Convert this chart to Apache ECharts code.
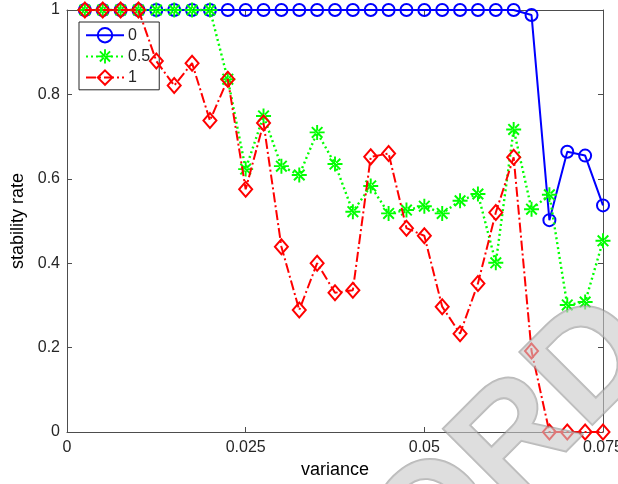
<!DOCTYPE html>
<html>
<head>
<meta charset="utf-8">
<script src="https://cdn.jsdelivr.net/npm/echarts@6/dist/echarts.min.js"></script>
<style>
  html, body { margin: 0; padding: 0; background: #fff; overflow: hidden; }
  #chart { width: 618px; height: 484px; }
</style>
</head>
<body>
<div id="chart"></div>
<script>
// variance values (x) shared by all three curves
const variance = [
  0.0025, 0.005, 0.0075, 0.01, 0.0125, 0.015, 0.0175, 0.02, 0.0225, 0.025,
  0.0275, 0.03, 0.0325, 0.035, 0.0375, 0.04, 0.0425, 0.045, 0.0475, 0.05,
  0.0525, 0.055, 0.0575, 0.06, 0.0625, 0.065, 0.0675, 0.07, 0.0725, 0.075
];

// stability rate for parameter 0
const rate0 = [
  1, 1, 1, 1, 1, 1, 1, 1, 1, 1,
  1, 1, 1, 1, 1, 1, 1, 1, 1, 1,
  1, 1, 1, 1, 1, 0.988, 0.502, 0.664, 0.655, 0.537
];

// stability rate for parameter 0.5
const rate05 = [
  1, 1, 1, 1, 1, 1, 1, 1, 0.836, 0.623,
  0.749, 0.630, 0.609, 0.710, 0.635, 0.522, 0.583, 0.518, 0.526, 0.535,
  0.518, 0.548, 0.564, 0.401, 0.717, 0.528, 0.562, 0.301, 0.308, 0.453
];

// stability rate for parameter 1
const rate1 = [
  1, 1, 1, 1, 0.879, 0.821, 0.874, 0.738, 0.836, 0.575,
  0.732, 0.439, 0.289, 0.400, 0.330, 0.336, 0.652, 0.660, 0.483, 0.465,
  0.297, 0.233, 0.352, 0.520, 0.651, 0.192, 0, 0, 0, 0
];

const seriesNames = ['0', '0.5', '1'];
const xTicks = [0, 0.025, 0.05, 0.075];
const yTicks = [0, 0.2, 0.4, 0.6, 0.8, 1];

const pairs = ys => variance.map((x, i) => [x, ys[i]]);

// eight-armed asterisk marker built from four thin bars
const asterisk = 'path://M-0.9,-7L0.9,-7L0.9,7L-0.9,7Z' +
  'M-7,-0.9L7,-0.9L7,0.9L-7,0.9Z' +
  'M-4.3,-5.6L5.6,4.3L4.3,5.6L-5.6,-4.3Z' +
  'M-4.3,5.6L5.6,-4.3L4.3,-5.6L-5.6,4.3Z';

const FONT = '"Liberation Sans", Arial, Helvetica, sans-serif';
const TXT = '#262626';
const AX = '#4d4d4d';

const chart = echarts.init(document.getElementById('chart'), null, { renderer: 'canvas' });

const axisCommon = {
  axisLine: { show: true, onZero: false, lineStyle: { color: AX, width: 1 } },
  axisTick: { show: true, inside: true, length: 5, lineStyle: { color: AX } },
  splitLine: { show: false }
};

chart.setOption({
  animation: false,
  backgroundColor: '#fff',
  grid: {
    left: 67, right: 15, top: 10, bottom: 52,
    containLabel: false, outerBoundsMode: 'none'
  },
  legend: {
    data: seriesNames,
    orient: 'vertical',
    left: 79,
    top: 22,
    padding: [5, 9, 4, 6],
    itemWidth: 38,
    itemHeight: 18,
    itemGap: 5,
    backgroundColor: '#fff',
    borderColor: '#262626',
    borderWidth: 1,
    textStyle: { fontFamily: FONT, fontSize: 16, color: TXT, padding: [0, 0, 0, -1] }
  },
  xAxis: [
    Object.assign({
      type: 'value', min: 0, max: 0.075, interval: 0.025, position: 'bottom',
      name: 'variance', nameLocation: 'middle', nameGap: 28,
      nameTextStyle: { fontFamily: FONT, fontSize: 18, color: '#000' },
      axisLabel: {
        fontFamily: FONT, fontSize: 16, color: TXT, margin: 8,
        formatter: v => xTicks.includes(+v.toFixed(4)) ? String(+v.toFixed(4)) : ''
      }
    }, axisCommon),
    Object.assign({
      type: 'value', min: 0, max: 0.075, interval: 0.025, position: 'top',
      axisLabel: { show: false }
    }, axisCommon)
  ],
  yAxis: [
    Object.assign({
      type: 'value', min: 0, max: 1, interval: 0.2, position: 'left',
      name: 'stability rate', nameLocation: 'middle', nameGap: 38, nameRotate: 90,
      nameTextStyle: { fontFamily: FONT, fontSize: 18, color: '#000' },
      axisLabel: {
        fontFamily: FONT, fontSize: 16, color: TXT, margin: 7,
        formatter: v => yTicks.includes(+v.toFixed(2)) ? String(+v.toFixed(2)) : ''
      }
    }, axisCommon),
    Object.assign({
      type: 'value', min: 0, max: 1, interval: 0.2, position: 'right',
      axisLabel: { show: false }
    }, axisCommon)
  ],
  series: [
    {
      name: '0', type: 'line', data: pairs(rate0), clip: false,
      color: '#0000ff',
      symbol: 'circle', symbolSize: 12,
      itemStyle: { color: 'rgba(0,0,0,0)', borderColor: '#0000ff', borderWidth: 2 },
      lineStyle: { color: '#0000ff', width: 2, type: 'solid' },
      z: 2
    },
    {
      name: '0.5', type: 'line', data: pairs(rate05), clip: false,
      color: '#00ff00',
      symbol: asterisk, symbolSize: 15,
      itemStyle: { color: '#00ff00', borderWidth: 0 },
      lineStyle: { color: '#00ff00', width: 2.4, type: [2, 3], cap: 'butt' },
      z: 3
    },
    {
      name: '1', type: 'line', data: pairs(rate1), clip: false,
      color: '#ff0000',
      symbol: 'diamond', symbolSize: [13, 15],
      itemStyle: { color: 'rgba(0,0,0,0)', borderColor: '#ff0000', borderWidth: 2 },
      lineStyle: { color: '#ff0000', width: 2, type: [10, 3, 2, 3] },
      z: 4
    }
  ],
  graphic: [
    {
      type: 'text',
      silent: true,
      z: 100,
      x: 450,
      y: 615,
      rotation: Math.PI / 4,
      style: {
        text: 'ORD',
        fontFamily: FONT,
        fontWeight: 'bold',
        fontSize: 150,
        fill: 'rgba(200,200,200,0.6)',
        stroke: 'rgba(130,130,130,0.55)',
        lineWidth: 2,
        textVerticalAlign: 'bottom'
      }
    }
  ]
});
</script>
</body>
</html>
